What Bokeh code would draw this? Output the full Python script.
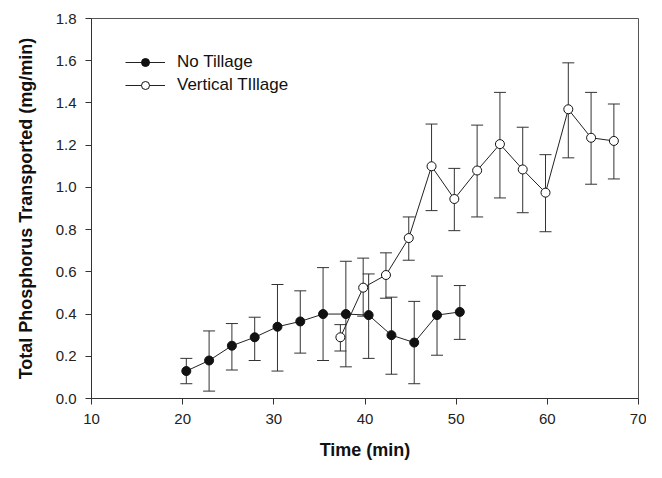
from bokeh.plotting import figure
from bokeh.models import (ColumnDataSource, Whisker, TeeHead, Range1d, FixedTicker,
                          Legend, LegendItem)
from bokeh.embed import file_html
from bokeh.resources import INLINE

# ---- data ----
nt_time = [20.4, 22.9, 25.4, 27.9, 30.4, 32.9, 35.4, 37.9, 40.4, 42.9, 45.4, 47.9, 50.4]
nt_mean = [0.13, 0.18, 0.25, 0.29, 0.34, 0.365, 0.40, 0.40, 0.395, 0.30, 0.265, 0.395, 0.41]
nt_upper = [0.19, 0.32, 0.355, 0.385, 0.54, 0.51, 0.62, 0.65, 0.59, 0.48, 0.46, 0.58, 0.535]
nt_lower = [0.07, 0.035, 0.135, 0.18, 0.13, 0.215, 0.18, 0.15, 0.19, 0.115, 0.07, 0.205, 0.28]

vt_time = [37.3, 39.8, 42.3, 44.8, 47.3, 49.8, 52.3, 54.8, 57.3, 59.8, 62.3, 64.8, 67.3]
vt_mean = [0.29, 0.525, 0.585, 0.76, 1.10, 0.945, 1.08, 1.205, 1.085, 0.975, 1.37, 1.235, 1.22]
vt_upper = [0.35, 0.665, 0.69, 0.86, 1.30, 1.09, 1.295, 1.45, 1.285, 1.155, 1.59, 1.45, 1.395]
vt_lower = [0.225, 0.39, 0.475, 0.655, 0.89, 0.795, 0.86, 0.95, 0.88, 0.79, 1.14, 1.015, 1.04]

x_ticks = [10, 20, 30, 40, 50, 60, 70]
y_ticks = [0.0, 0.2, 0.4, 0.6, 0.8, 1.0, 1.2, 1.4, 1.6, 1.8]
y_tick_labels = {t: f"{t:.1f}" for t in y_ticks}

series_names = ["No Tillage", "Vertical TIllage"]
x_title = "Time (min)"
y_title = "Total Phosphorus Transported (mg/min)"

FONT = "Liberation Sans"

p = figure(width=646, height=462, output_backend="svg", toolbar_location=None,
           x_range=Range1d(10, 70), y_range=Range1d(0, 1.8),
           min_border_left=91, min_border_right=8, min_border_top=18, min_border_bottom=62)
p.xgrid.visible = False
p.ygrid.visible = False
p.outline_line_color = "#555555"
p.outline_line_width = 1
p.background_fill_color = "white"
p.border_fill_color = "white"

for ax in (p.xaxis[0], p.yaxis[0]):
    ax.axis_line_color = "#333333"
    ax.major_tick_line_color = "#333333"
    ax.minor_tick_line_color = None
    ax.major_tick_out = 6
    ax.major_tick_in = 0
    ax.major_label_text_font = FONT
    ax.major_label_text_font_size = "15px"
    ax.major_label_text_color = "#222222"
    ax.axis_label_text_font = FONT
    ax.axis_label_text_font_style = "bold"
    ax.axis_label_text_font_size = "18px"
    ax.axis_label_text_color = "#111111"

p.xaxis.ticker = FixedTicker(ticks=x_ticks)
p.yaxis.ticker = FixedTicker(ticks=y_ticks)
p.yaxis.major_label_overrides = y_tick_labels
p.xaxis.axis_label = x_title
p.yaxis.axis_label = y_title
p.xaxis.major_label_standoff = 9
p.yaxis.major_label_standoff = 9
p.xaxis.axis_label_standoff = 13
p.yaxis.axis_label_standoff = 17

nt_src = ColumnDataSource(dict(x=nt_time, y=nt_mean, up=nt_upper, lo=nt_lower))
vt_src = ColumnDataSource(dict(x=vt_time, y=vt_mean, up=vt_upper, lo=vt_lower))

LINE = "#222222"
for src in (nt_src, vt_src):
    w = Whisker(source=src, base="x", upper="up", lower="lo",
                line_color="#333333", line_width=1,
                upper_head=TeeHead(size=12, line_color="#333333", line_width=1),
                lower_head=TeeHead(size=12, line_color="#333333", line_width=1))
    p.add_layout(w)

nt_line = p.line("x", "y", source=nt_src, line_color=LINE, line_width=1)
nt_pts = p.scatter("x", "y", source=nt_src, size=9, marker="circle",
                   fill_color="#111111", line_color="#111111")
vt_line = p.line("x", "y", source=vt_src, line_color=LINE, line_width=1)
vt_pts = p.scatter("x", "y", source=vt_src, size=9, marker="circle",
                   fill_color="white", line_color="#111111", line_width=1)

legend = Legend(items=[LegendItem(label=series_names[0], renderers=[nt_line, nt_pts]),
                       LegendItem(label=series_names[1], renderers=[vt_line, vt_pts])],
                location=(34, 303), orientation="vertical",
                glyph_width=40, glyph_height=20, label_height=20, label_standoff=12,
                spacing=3, padding=0, margin=0,
                border_line_color=None, background_fill_alpha=0,
                label_text_font=FONT, label_text_font_size="17px",
                label_text_color="#111111")
p.add_layout(legend)

open("out.html", "w").write(file_html(p, INLINE))
